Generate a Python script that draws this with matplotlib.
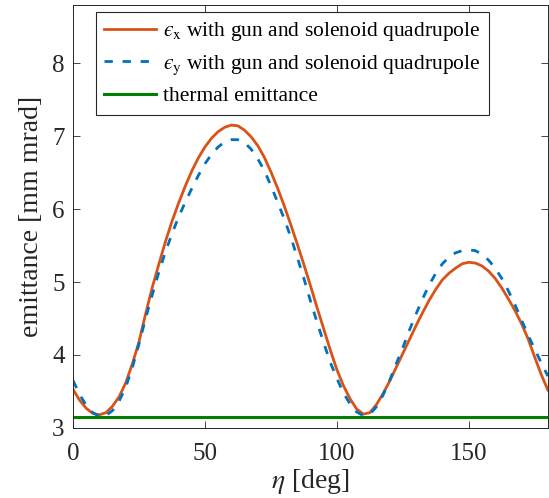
import numpy as np
import matplotlib
matplotlib.use('Agg')
import matplotlib.pyplot as plt

# ================
# Data
# ================

eta_deg = np.arange(0, 180.1, 2.5)

emit_x = [3.53, 3.38, 3.27, 3.20, 3.18, 3.21, 3.30, 3.43, 3.62, 3.88,
          4.18, 4.56, 4.92, 5.24, 5.55, 5.83, 6.08, 6.31, 6.52, 6.70,
          6.85, 6.97, 7.06, 7.12, 7.15, 7.14, 7.08, 6.99, 6.87, 6.71,
          6.51, 6.29, 6.05, 5.79, 5.52, 5.24, 4.95, 4.65, 4.36, 4.07,
          3.80, 3.58, 3.40, 3.26, 3.19, 3.21, 3.32, 3.47, 3.64, 3.83,
          4.02, 4.21, 4.40, 4.58, 4.75, 4.90, 5.03, 5.12, 5.19, 5.25,
          5.27, 5.26, 5.22, 5.15, 5.05, 4.92, 4.77, 4.61, 4.43, 4.22,
          3.97, 3.73, 3.52]

emit_y = [3.65, 3.46, 3.31, 3.21, 3.16, 3.17, 3.24, 3.37, 3.56, 3.83,
          4.15, 4.50, 4.82, 5.13, 5.41, 5.66, 5.89, 6.09, 6.28, 6.46,
          6.62, 6.75, 6.85, 6.92, 6.95, 6.95, 6.91, 6.82, 6.69, 6.53,
          6.32, 6.10, 5.87, 5.62, 5.34, 5.05, 4.74, 4.45, 4.17, 3.90,
          3.68, 3.48, 3.33, 3.22, 3.17, 3.19, 3.29, 3.45, 3.65, 3.88,
          4.10, 4.34, 4.56, 4.77, 4.96, 5.12, 5.25, 5.34, 5.40, 5.43,
          5.44, 5.43, 5.38, 5.30, 5.19, 5.05, 4.88, 4.69, 4.48, 4.27,
          4.08, 3.89, 3.71]

emit_thermal = 3.15

labels = [r'$ϵ_{\mathrm{x}}$ with gun and solenoid quadrupole',
          r'$ϵ_{\mathrm{y}}$ with gun and solenoid quadrupole',
          'thermal emittance']

# ==========
# Plot
# ==========

plt.rcParams['font.family'] = 'Liberation Serif'
plt.rcParams['mathtext.fontset'] = 'stix'

fig = plt.figure(figsize=(5.49, 4.98), dpi=100)
ax = fig.add_axes([0.133, 0.1406, 0.865, 0.85])

ax.plot(eta_deg, emit_x, color='#D95319', lw=2, label=labels[0])
ax.plot(eta_deg, emit_y, color='#0072BD', lw=2, dashes=(3, 3.5), label=labels[1])
ax.plot([0, 180], [emit_thermal, emit_thermal], color='#008000', lw=2.2, label=labels[2])

ax.set_xlim(0, 180)
ax.set_ylim(3, 8.8)
ax.set_xticks([0, 50, 100, 150])
ax.set_yticks([3, 4, 5, 6, 7, 8])

ax.tick_params(direction='in', length=5, width=0.6, colors='#262626',
               labelsize=18, top=True, right=True)
ax.tick_params(axis='x', pad=11)
ax.tick_params(axis='y', pad=6)
for s in ax.spines.values():
    s.set_linewidth(0.7)
    s.set_color('#262626')

ax.set_xlabel(r'$\eta$ [deg]', fontsize=20, color='#262626', labelpad=1.5)
ax.set_ylabel('emittance [mm mrad]', fontsize=20, color='#262626', labelpad=6)

leg = ax.legend(loc='upper left', bbox_to_anchor=(0.048, 0.983), borderaxespad=0,
                fontsize=15.5, handlelength=2.4, handletextpad=0.3,
                labelspacing=0.45, borderpad=0.4, fancybox=False,
                framealpha=1, edgecolor='#262626')
leg.get_frame().set_linewidth(0.8)

fig.savefig('out.png', dpi=100)
